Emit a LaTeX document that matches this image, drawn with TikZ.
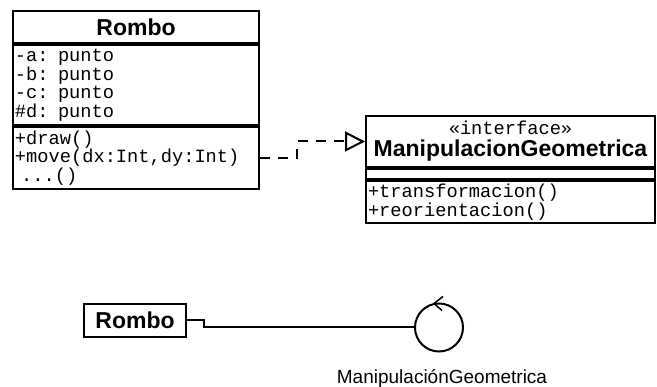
\documentclass[tikz,border=0pt]{standalone}
\usepackage{fontspec}
\setmainfont{Liberation Sans}
\newfontfamily\umlmono{Liberation Mono}
\usetikzlibrary{positioning,arrows.meta}

\tikzset{
  umlname/.style={draw, line width=2pt, font=\bfseries\fontsize{23}{22}\selectfont, inner sep=0pt},
  umlpart/.style={draw, line width=2pt, font=\umlmono\fontsize{18.7}{18.5}\selectfont,
    align=left, inner xsep=2pt, inner ysep=0pt},
}

\begin{document}
\begin{tikzpicture}[x=1pt, y=-1pt]
  \useasboundingbox (0,0) rectangle (657,387);

  % class Rombo with its three compartments
  \node[umlname, minimum width=246pt, minimum height=32pt] (rombo) at (136,27) {Rombo};
  \node[umlpart, text width=242pt, minimum height=80pt, below=0pt of rombo] (rombo-attr)
    {-a: punto\\-b: punto\\-c: punto\\\#d: punto};
  \node[umlpart, text width=242pt, minimum height=62pt, below=0pt of rombo-attr] (rombo-ops)
    {+draw()\\+move(dx:Int,dy:Int)\\\ ...()};

  % the interface
  \node[umlname, align=center, minimum width=289pt, minimum height=51pt] (iface) at (510.5,141.5)
    {{\umlmono\mdseries\fontsize{18.7}{18.5}\selectfont «interface»}\\ManipulacionGeometrica};
  \node[umlpart, text width=285pt, minimum height=10pt, below=0pt of iface] (iface-attr) {};
  \node[umlpart, text width=285pt, minimum height=42pt, below=0pt of iface-attr] (iface-ops)
    {+transformacion()\\+reorientacion()};

  % realization
  \draw[line width=2pt, dash pattern=on 10pt off 8pt, -{Triangle[open, length=20pt, width=20pt]}]
    (rombo-ops.east) -- ++(37,0) |- (iface.west);

  % same thing in lollipop notation
  \node[umlname, minimum width=102pt, minimum height=33pt] (rombo-icon) at (135,320.5) {Rombo};
  \node[draw, circle, line width=2pt, minimum size=48pt, inner sep=0pt] (lollipop) at (439,327.5) {};
  \draw[line width=2pt] (rombo-icon.east) -- ++(17,0) |- (lollipop.west);
  \draw[line width=1.5pt] (lollipop.north) ++(4,-6) -- ++(-9,7) -- ++(8,7);
  \node[font=\fontsize{19}{22}\selectfont, inner sep=0pt, below=17pt of lollipop, xshift=3pt] (lollipop-label)
    {ManipulaciónGeometrica};
\end{tikzpicture}
\end{document}
